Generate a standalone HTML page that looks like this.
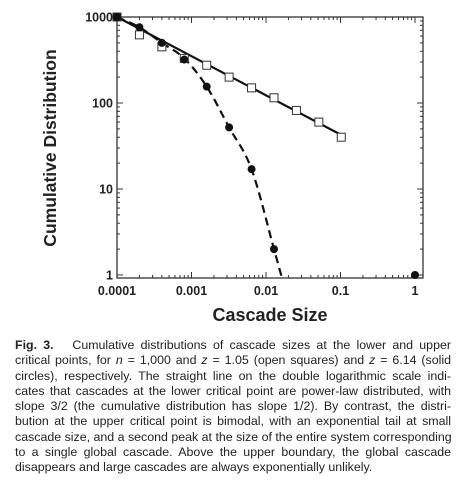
<!DOCTYPE html>
<html><head><meta charset="utf-8">
<style>
body{margin:0;width:463px;height:489px;background:#fff;overflow:hidden;font-family:"Liberation Sans",sans-serif}
#cap{position:absolute;left:15px;top:338px;width:436px;font-size:12.4px;line-height:15.3px;color:#222}
#cap div{text-align:justify;text-align-last:justify;white-space:nowrap}
#cap div.last{text-align-last:left}
</style></head><body>
<svg id="chart" width="463" height="330" style="position:absolute;left:0;top:0" font-family="Liberation Sans, sans-serif"></svg>
<div id="cap">
<div><b>Fig. 3.</b>&nbsp;&nbsp;&nbsp;Cumulative distributions of cascade sizes at the lower and upper</div>
<div>critical points, for <i>n</i> = 1,000 and <i>z</i> = 1.05 (open squares) and <i>z</i> = 6.14 (solid</div>
<div>circles), respectively. The straight line on the double logarithmic scale indi-</div>
<div>cates that cascades at the lower critical point are power-law distributed, with</div>
<div>slope 3/2 (the cumulative distribution has slope 1/2). By contrast, the distri-</div>
<div>bution at the upper critical point is bimodal, with an exponential tail at small</div>
<div>cascade size, and a second peak at the size of the entire system corresponding</div>
<div>to a single global cascade. Above the upper boundary, the global cascade</div>
<div class="last">disappears and large cascades are always exponentially unlikely.</div>
</div>
<script>
const squareX=[0.0001,0.0002,0.0004,0.0008,0.0016,0.0032,0.0064,0.0128,0.0256,0.0512,0.1024];
const squareY=[1000,620,450,330,275,200,150,115,82,60,40];
const circleX=[0.0001,0.0002,0.0004,0.0008,0.0016,0.0032,0.0064,0.0128,1];
const circleY=[1000,760,500,320,155,52,17,2,1];
const fitX=[0.0001,0.1];
const fitY=[1000,43];
const dashX=[0.0001,0.0002,0.0004,0.0008,0.0016,0.0032,0.0064,0.0128,0.0165];
const dashY=[1000,760,500,330,155,52,17,2,0.9];
const xTicks=[0.0001,0.001,0.01,0.1,1];
const xTickLabels=["0.0001","0.001","0.01","0.1","1"];
const yTicks=[1,10,100,1000];
const yTickLabels=["1","10","100","1000"];

const NS="http://www.w3.org/2000/svg";
const svg=document.getElementById('chart');
const L=117,R=423,T=17,B=278;
const X0=117,XD=74.5,Y0=275,YD=86;
const xs=v=>X0+Math.log10(v/0.0001)*XD;
const ys=v=>Y0-Math.log10(v)*YD;
function mk(t,a,p){const e=document.createElementNS(NS,t);for(const k in a)e.setAttribute(k,a[k]);(p||svg).appendChild(e);return e;}
const frame=mk('rect',{x:L,y:T,width:R-L,height:B-T,fill:'none',stroke:'#333','stroke-width':1.3});


const tg=mk('g',{stroke:'#333','stroke-width':1});


for(let d=-4;d<=0;d++){for(let m=1;m<10;m++){const v=Math.pow(10,d)*m;const x=xs(v);if(x>R)break;const len=m==1?6:3;
mk('line',{x1:x,y1:B,x2:x,y2:B-len},tg);mk('line',{x1:x,y1:T,x2:x,y2:T+len},tg);}}
for(let d=-1;d<=3;d++){for(let m=1;m<10;m++){const v=Math.pow(10,d)*m;const y=ys(v);if(y<T||y>B)continue;const len=m==1?6:3;
mk('line',{x1:L,y1:y,x2:L+len,y2:y},tg);mk('line',{x1:R,y1:y,x2:R-len,y2:y},tg);}}
xTicks.forEach((v,i)=>{const t=mk('text',{x:xs(v),y:295,'text-anchor':'middle','font-size':12.5,'font-weight':'bold',fill:'#222'});t.textContent=xTickLabels[i];

});
yTicks.forEach((v,i)=>{const t=mk('text',{x:113,y:ys(v)+4.5,'text-anchor':'end','font-size':12.5,'font-weight':'bold',fill:'#222'});t.textContent=yTickLabels[i];

});
const xt=mk('text',{x:270,y:321,'text-anchor':'middle','font-size':18,'font-weight':'bold',fill:'#222'});xt.textContent='Cascade Size';


const yt=mk('text',{x:0,y:0,'text-anchor':'middle','font-size':17.5,'font-weight':'bold',fill:'#222',transform:'translate(56,148) rotate(-90)'});yt.textContent='Cumulative  Distribution';


const fit=mk('line',{x1:xs(fitX[0]),y1:ys(fitY[0]),x2:xs(fitX[1]),y2:ys(fitY[1]),stroke:'#111','stroke-width':2.2});


const P=dashX.map((v,i)=>[xs(v),ys(dashY[i])]);
let d='M'+P[0][0]+','+P[0][1];
for(let i=0;i<P.length-1;i++){const p0=P[Math.max(0,i-1)],p1=P[i],p2=P[i+1],p3=P[Math.min(P.length-1,i+2)];
d+=' C'+(p1[0]+(p2[0]-p0[0])/6)+','+(p1[1]+(p2[1]-p0[1])/6)+' '+(p2[0]-(p3[0]-p1[0])/6)+','+(p2[1]-(p3[1]-p1[1])/6)+' '+p2[0]+','+p2[1];}
const dash=mk('path',{d:d,fill:'none',stroke:'#111','stroke-width':2.2,'stroke-dasharray':'8,5'});


squareX.forEach((v,i)=>{const s=mk('rect',{x:xs(v)-4,y:ys(squareY[i])-4,width:8,height:8,fill:i==0?'#111':'#fff',stroke:'#333','stroke-width':1});

});
circleX.forEach((v,i)=>{const c=mk('circle',{cx:xs(v),cy:ys(circleY[i]),r:4,fill:'#111'});

});
</script>
</body></html>
